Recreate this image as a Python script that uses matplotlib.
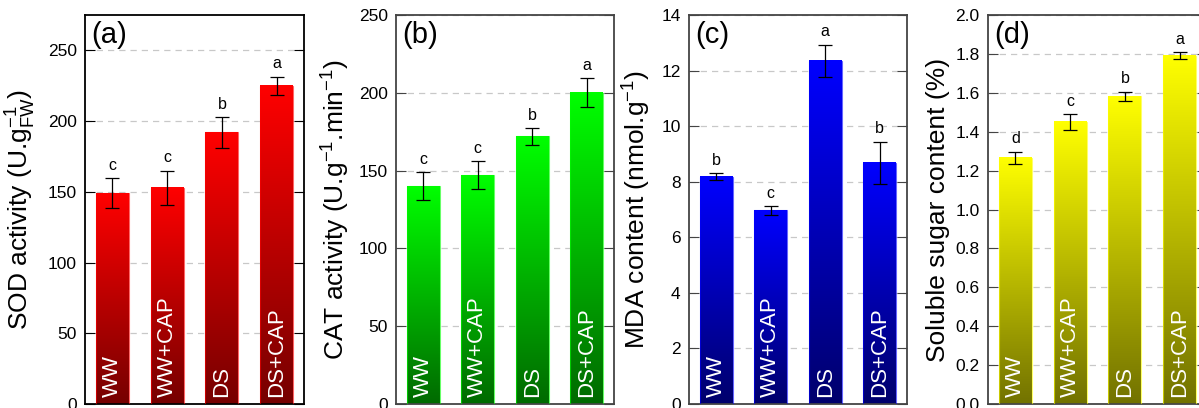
import numpy as np
import matplotlib
matplotlib.use('Agg')
import matplotlib.pyplot as plt
from matplotlib.colors import LinearSegmentedColormap
from matplotlib.patches import Rectangle

plt.rcParams['font.family'] = ['Liberation Sans', 'DejaVu Sans']
plt.rcParams['mathtext.fontset'] = 'custom'
plt.rcParams['mathtext.rm'] = 'Liberation Sans'
plt.rcParams['mathtext.it'] = 'Liberation Sans:italic'

# dados
tratamentos = ['WW', 'WW+CAP', 'DS', 'DS+CAP']

sod = [149, 153, 192, 225]
sod_err = [10.7, 12, 10.7, 6.5]
sod_let = ['c', 'c', 'b', 'a']

cat = [140, 147, 172, 200]
cat_err = [9, 9, 5.3, 9.3]
cat_let = ['c', 'c', 'b', 'a']

mda = [8.18, 6.97, 12.35, 8.68]
mda_err = [0.13, 0.15, 0.57, 0.75]
mda_let = ['b', 'c', 'a', 'b']

acucar = [1.266, 1.45, 1.582, 1.791]
acucar_err = [0.03, 0.04, 0.022, 0.017]
acucar_let = ['d', 'c', 'b', 'a']

paineis = [
    (sod, sod_err, sod_let, 'SOD activity (U.g$^{-1}_{\\mathrm{FW}}$)', (0, 275), np.arange(0, 251, 50),
     '{:.0f}', ('#ff0000', '#760000'), '(a)', 85, 219, 47, 'black'),
    (cat, cat_err, cat_let, 'CAT activity (U.g$^{-1}$.min$^{-1}$)', (0, 250), np.arange(0, 251, 50),
     '{:.0f}', ('#00ff00', '#006a00'), '(b)', 396, 218, 44, '#444444'),
    (mda, mda_err, mda_let, 'MDA content (nmol.g$^{-1}$)', (0, 14), np.arange(0, 15, 2),
     '{:.0f}', ('#0000ff', '#00006c'), '(c)', 689, 218, 36, '#444444'),
    (acucar, acucar_err, acucar_let, 'Soluble sugar content (%)', (0, 2.0), np.arange(0, 2.01, 0.2),
     '{:.1f}', ('#ffff00', '#727200'), '(d)', 988, 219, 38, '#444444'),
]

W, H = 1199, 408
fig = plt.figure(figsize=(W / 100, H / 100), dpi=100)

x = np.arange(len(tratamentos))
largura = 0.6

for vals, errs, letras, ylabel, ylim, ticks, fmt, cores, tag, left, wpx, labdist, spcor in paineis:
    ax = fig.add_axes([left / W, 4 / H, wpx / W, 389 / H])
    cmap = LinearSegmentedColormap.from_list('g', [cores[1], cores[0]])
    grad = np.linspace(0, 1, 256).reshape(-1, 1)

    ax.set_yticks(ticks)
    ax.set_yticklabels([fmt.format(t) for t in ticks], fontsize=12.5)
    ax.set_xticks([])

    # linhas de grade tracejadas
    for t in ticks[1:]:
        ax.axhline(t, color='#c8c8c8', linestyle=(0, (5, 4)), linewidth=0.9, zorder=0)

    for xi, v, e, l, nome in zip(x, vals, errs, letras, tratamentos):
        ax.imshow(grad, extent=[xi - largura / 2, xi + largura / 2, 0, v], origin='lower',
                  cmap=cmap, aspect='auto', zorder=2, interpolation='bilinear')
        ax.add_patch(Rectangle((xi - largura / 2, 0), largura, v, fill=False,
                               edgecolor=cores[0], linewidth=0.8, alpha=0.6, zorder=3))
        ax.errorbar(xi, v, yerr=e, color='black', linewidth=0.9, capsize=5, capthick=0.9, zorder=4)
        ax.annotate(l, (xi, v + e), xytext=(0, 4), textcoords='offset points',
                    ha='center', va='bottom', fontsize=11.5)
        ax.text(xi, ylim[1] * 0.018, nome, rotation=90, color='white', ha='center', va='bottom',
                fontsize=16, zorder=5)

    ax.set_xlim(-0.5, len(tratamentos) - 0.5)
    ax.set_ylim(*ylim)
    ax.tick_params(axis='y', direction='in', length=7, right=True, left=True, pad=6, color=spcor)
    for s in ax.spines.values():
        s.set_color(spcor)
        s.set_linewidth(1.3)

    ax.set_ylabel(ylabel, fontsize=19)
    ax.yaxis.set_label_coords(-labdist / wpx, 0.5)
    ax.text(0.03, 0.985, tag, transform=ax.transAxes, ha='left', va='top', fontsize=21)

plt.savefig('out.png', dpi=100)
